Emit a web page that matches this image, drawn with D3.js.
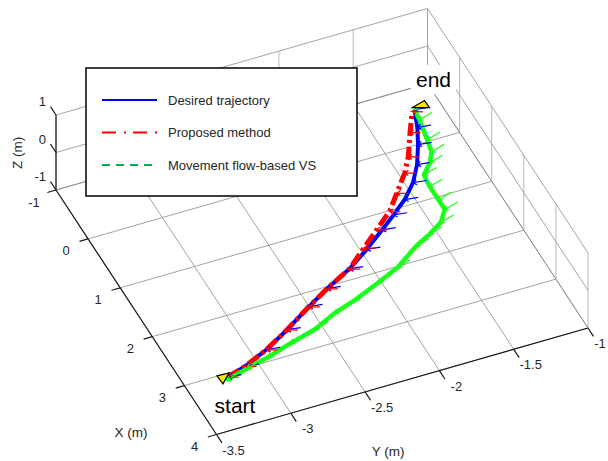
<!DOCTYPE html>
<html>
<head>
<meta charset="utf-8">
<script src="https://cdn.jsdelivr.net/npm/d3@7"></script>
<style>
  body { margin: 0; background: #fff; }
  text { font-family: "Liberation Sans", Arial, Helvetica, sans-serif; }
</style>
</head>
<body>
<script>
var canvasWidth = 608;
var canvasHeight = 461;

// trajectories in metres (z kept at 0)
var desiredX = [3.71, 3.61, 3.43, 3.19, 2.90, 2.68, 2.45, 2.20, 1.94, 1.74, 1.53, 1.28, 0.99, 0.65, 0.35, 0.03];
var desiredY = [-3.36, -3.22, -3.04, -2.85, -2.64, -2.47, -2.27, -2.10, -1.94, -1.82, -1.70, -1.59, -1.50, -1.42, -1.36, -1.31];
var desiredZ = [0, 0, 0, 0, 0, 0, 0, 0, 0, 0, 0, 0, 0, 0, 0, 0];

var proposedX = [3.71, 3.61, 3.43, 3.19, 2.90, 2.68, 2.45, 2.16, 1.91, 1.66, 1.38, 1.07, 0.81, 0.40, 0.05];
var proposedY = [-3.36, -3.22, -3.04, -2.85, -2.64, -2.47, -2.27, -2.11, -1.97, -1.83, -1.72, -1.60, -1.52, -1.42, -1.33];
var proposedZ = [0, 0, 0, 0, 0, 0, 0, 0, 0, 0, 0, 0, 0, 0, 0];

var flowX = [3.76, 3.66, 3.57, 3.44, 3.32, 3.14, 3.01, 2.83, 2.66, 2.39, 2.25, 2.10, 1.90, 1.70, 1.43, 1.20, 1.02, 0.84, 0.61, 0.23, 0.03];
var flowY = [-3.38, -3.22, -3.06, -2.88, -2.69, -2.52, -2.35, -2.16, -1.99, -1.81, -1.69, -1.58, -1.51, -1.51, -1.51, -1.50, -1.42, -1.37, -1.35, -1.32, -1.31];
var flowZ = [0, 0, 0, 0, 0, 0, 0, 0, 0, 0, 0, 0, 0, 0, 0, 0, 0, 0, 0, 0, 0];

// orientation arrows drawn along each path (dx, dy, dz in metres)
var desiredArrow = [0.03, 0.085, 0];
var proposedArrow = [0.06, 0.06, 0];
var flowArrow = [0, 0.085, 0.1];

var xTicks = [-1, 0, 1, 2, 3, 4];
var yTicks = [-3.5, -3, -2.5, -2, -1.5, -1];
var zTicks = [-1, 0, 1];

var legendNames = ["Desired trajectory", "Proposed method", "Movement flow-based VS"];

// 3D view: each axis is a linear scale, combined along the screen edges of the box
var xScale = d3.scaleLinear().domain([-1, 4]).range([0, 1]);
var yScale = d3.scaleLinear().domain([-3.5, -1]).range([0, 1]);
var zScale = d3.scaleLinear().domain([-1, 1]).range([0, 1]);
var origin = [56, 190];
var edgeX = [160.5, 244.5], edgeY = [371.5, -106.5], edgeZ = [0, -75];

function proj(x, y, z) {
    var a = xScale(x), b = yScale(y), c = zScale(z);
    return [origin[0] + a * edgeX[0] + b * edgeY[0] + c * edgeZ[0],
            origin[1] + a * edgeX[1] + b * edgeY[1] + c * edgeZ[1]];
}
function unit(v) { var l = Math.hypot(v[0], v[1]); return [v[0] / l, v[1] / l]; }

var svg = d3.select("body").append("svg")
    .attr("width", canvasWidth)
    .attr("height", canvasHeight);

svg.append("rect").attr("width", canvasWidth).attr("height", canvasHeight).attr("fill", "#fff");

function seg(g, p, q) {
    var a = proj(p[0], p[1], p[2]), b = proj(q[0], q[1], q[2]);
    return g.append("line")
        .attr("x1", a[0]).attr("y1", a[1])
        .attr("x2", b[0]).attr("y2", b[1]);
}

// grid on floor and the two back walls
var grid = svg.append("g").attr("stroke", "#858585").attr("stroke-width", 0.75);
xTicks.forEach(function(x) { seg(grid, [x, -3.5, -1], [x, -1, -1]); });
yTicks.forEach(function(y) { seg(grid, [-1, y, -1], [4, y, -1]); });
zTicks.forEach(function(z) { seg(grid, [-1, -3.5, z], [-1, -1, z]); });
zTicks.forEach(function(z) { seg(grid, [-1, -1, z], [4, -1, z]); });
var vgrid = svg.append("g").attr("stroke", "#a0a0a0").attr("stroke-width", 0.75);
yTicks.forEach(function(y) { seg(vgrid, [-1, y, -1], [-1, y, 1]); });
xTicks.forEach(function(x) { seg(vgrid, [x, -1, -1], [x, -1, 1]); });

// axes
var axes = svg.append("g").attr("stroke", "#1a1a1a").attr("stroke-width", 1.2);
seg(axes, [-1, -3.5, -1], [4, -3.5, -1]);
seg(axes, [4, -3.5, -1], [4, -1, -1]);
seg(axes, [-1, -3.5, -1], [-1, -3.5, 1]);

var ux = unit(edgeX), uy = unit(edgeY);
var labels = svg.append("g").attr("font-size", "13px").attr("fill", "#262626");

xTicks.forEach(function(x) {
    var p = proj(x, -3.5, -1);
    axes.append("line").attr("x1", p[0]).attr("y1", p[1])
        .attr("x2", p[0] - 9 * uy[0]).attr("y2", p[1] - 9 * uy[1]);
    labels.append("text").attr("x", p[0] - 22).attr("y", p[1] + 12).attr("dy", "0.35em")
        .attr("text-anchor", "middle").text(x);
});
yTicks.forEach(function(y) {
    var p = proj(4, y, -1);
    axes.append("line").attr("x1", p[0]).attr("y1", p[1])
        .attr("x2", p[0] + 10 * ux[0]).attr("y2", p[1] + 10 * ux[1]);
    // last label sits against the right edge of the window
    labels.append("text").attr("x", Math.min(p[0] + 17, canvasWidth - 8)).attr("y", p[1] + 15.5)
        .attr("dy", "0.35em").attr("text-anchor", "middle").text(y);
});
zTicks.forEach(function(z) {
    var p = proj(-1, -3.5, z);
    axes.append("line").attr("x1", p[0]).attr("y1", p[1])
        .attr("x2", p[0] - 10 * ux[0]).attr("y2", p[1] - 10 * ux[1]);
    labels.append("text").attr("x", p[0] - 10).attr("y", p[1] - 13.5).attr("dy", "0.35em")
        .attr("text-anchor", "end").text(z);
});

labels.append("text").attr("transform", "translate(17,153) rotate(-90)").attr("dy", "0.35em")
    .attr("text-anchor", "middle").attr("font-size", "13.5px").text("Z (m)");
labels.append("text").attr("x", 131).attr("y", 432).attr("dy", "0.35em")
    .attr("text-anchor", "middle").attr("font-size", "13.5px").text("X (m)");
labels.append("text").attr("x", 388).attr("y", 451).attr("dy", "0.35em")
    .attr("text-anchor", "middle").attr("font-size", "13.5px").text("Y (m)");

// trajectories
var line = d3.line().x(function(d) { return d[0]; }).y(function(d) { return d[1]; });
function pts(X, Y, Z) { return X.map(function(x, i) { return proj(x, Y[i], Z[i]); }); }

var desiredPts = pts(desiredX, desiredY, desiredZ);
var proposedPts = pts(proposedX, proposedY, proposedZ);
var flowPts = pts(flowX, flowY, flowZ);

svg.append("path").datum(desiredPts).attr("d", line)
    .attr("fill", "none").attr("stroke", "#0000ff").attr("stroke-width", 4)
    .attr("stroke-linejoin", "round");
svg.append("path").datum(proposedPts).attr("d", line)
    .attr("fill", "none").attr("stroke", "#ff0000").attr("stroke-width", 5)
    .attr("stroke-dasharray", "13,4,3,4");
svg.append("path").datum(flowPts).attr("d", line)
    .attr("fill", "none").attr("stroke", "#1aff1a").attr("stroke-width", 4.5)
    .attr("stroke-linejoin", "round");

function arrows(X, Y, Z, dir, color) {
    var g = svg.append("g").attr("stroke", color).attr("stroke-width", 1.2).attr("fill", "none");
    X.forEach(function(x, i) {
        var a = proj(x, Y[i], Z[i]);
        var b = proj(x + dir[0], Y[i] + dir[1], Z[i] + dir[2]);
        var u = unit([b[0] - a[0], b[1] - a[1]]);
        var ang = Math.PI / 5, c = Math.cos(ang), s = Math.sin(ang);
        var h1 = [a[0] + 4.5 * (u[0] * c - u[1] * s), a[1] + 4.5 * (u[0] * s + u[1] * c)];
        var h2 = [a[0] + 4.5 * (u[0] * c + u[1] * s), a[1] + 4.5 * (-u[0] * s + u[1] * c)];
        g.append("path").attr("d", "M" + b + "L" + a + "M" + h1 + "L" + a + "L" + h2);
    });
}
arrows(desiredX, desiredY, desiredZ, desiredArrow, "#0000ff");
arrows(proposedX, proposedY, proposedZ, proposedArrow, "#ff0000");
arrows(flowX, flowY, flowZ, flowArrow, "#1aff1a");

// camera markers at both ends
var startP = desiredPts[0], endP = desiredPts[desiredPts.length - 1];
svg.append("polygon")
    .attr("points", [[startP[0] - 11, startP[1] - 1], [startP[0] + 1, startP[1] - 4], [startP[0] - 5, startP[1] + 7]].join(" "))
    .attr("fill", "#ffe600").attr("stroke", "#000").attr("stroke-width", 1.2);
svg.append("polygon")
    .attr("points", [[endP[0] - 2, endP[1] - 2], [endP[0] + 10, endP[1] - 9], [endP[0] + 15, endP[1] - 2]].join(" "))
    .attr("fill", "#ffe600").attr("stroke", "#000").attr("stroke-width", 1.2);

// start / end tags with white background
function tag(x, y, s) {
    var g = svg.append("g");
    var r = g.append("rect").attr("fill", "#fff");
    var t = g.append("text").attr("x", x).attr("y", y).attr("text-anchor", "middle")
        .attr("font-size", "21px").attr("fill", "#000").text(s);
    var bb = t.node().getBBox();
    r.attr("x", bb.x - 5).attr("y", bb.y - 3).attr("width", bb.width + 10).attr("height", bb.height + 6);
}
tag(235, 413, "start");
tag(433.5, 87, "end");

// legend
var legend = svg.append("g");
legend.append("rect").attr("x", 86).attr("y", 68).attr("width", 271).attr("height", 128)
    .attr("fill", "#fff").attr("stroke", "#000").attr("stroke-width", 1.5);
var legendStyle = [
    { color: "#0000ff", dash: null, x2: 157 },
    { color: "#ff0000", dash: "14,8,2,7", x2: 157 },
    { color: "#00b050", dash: "8,6", x2: 152 }
];
legendNames.forEach(function(name, i) {
    var y = 100 + i * 32.5;
    legend.append("line").attr("x1", 102).attr("x2", legendStyle[i].x2).attr("y1", y).attr("y2", y)
        .attr("stroke", legendStyle[i].color).attr("stroke-width", 2)
        .attr("stroke-dasharray", legendStyle[i].dash);
    legend.append("text").attr("x", 168).attr("y", y).attr("dy", "0.35em")
        .attr("font-size", "13px").attr("fill", "#262626").text(name);
});
</script>
</body>
</html>
